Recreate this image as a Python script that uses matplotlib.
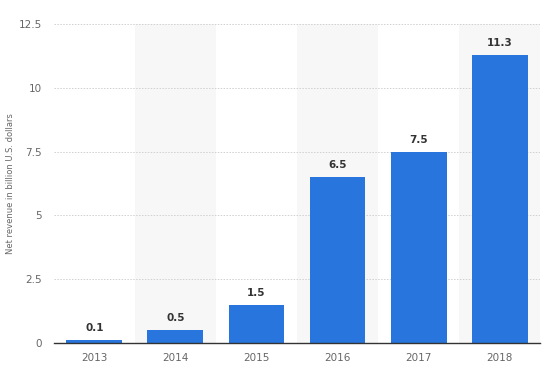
import matplotlib
matplotlib.use("Agg")
import matplotlib.pyplot as plt

years = ["2013", "2014", "2015", "2016", "2017", "2018"]
revenue = [0.1, 0.5, 1.5, 6.5, 7.5, 11.3]
labels = ["0.1", "0.5", "1.5", "6.5", "7.5", "11.3"]
yticks = [0, 2.5, 5, 7.5, 10, 12.5]
ytick_labels = ["0", "2.5", "5", "7.5", "10", "12.5"]

fig = plt.figure(figsize=(5.5, 3.91), dpi=100)
ax = fig.add_axes([0.098, 0.1228, 0.884, 0.8158])

x = list(range(len(years)))
for i in x:
    if i % 2 == 1:
        ax.axvspan(i - 0.5, i + 0.5, color="#f7f7f7", zorder=0, lw=0)

bars = ax.bar(x, revenue, width=0.69, color="#2876dd", zorder=3)
for xi, v, lab in zip(x, revenue, labels):
    ax.annotate(lab, (xi, v), xytext=(0, 5), textcoords="offset points",
                ha="center", va="bottom", fontsize=7.5, fontweight="bold", color="#333333")

ax.set_xlim(-0.5, len(years) - 0.5)
ax.set_ylim(0, 12.5)
ax.set_yticks(yticks)
ax.set_yticklabels(ytick_labels)
ax.set_xticks(x)
ax.set_xticklabels(years)
ax.yaxis.grid(True, color="#d0d0d0", linestyle=(0, (1.5, 1.5)), linewidth=0.7, zorder=1)
ax.set_axisbelow(True)
for s in ["top", "right", "left"]:
    ax.spines[s].set_visible(False)
ax.spines["bottom"].set_color("#333333")
ax.spines["bottom"].set_linewidth(1.0)
ax.spines["bottom"].set_zorder(4)
ax.tick_params(axis="both", length=0, labelsize=7.5, labelcolor="#666666")
ax.tick_params(axis="x", pad=7)
ax.tick_params(axis="y", pad=8.5)
ax.set_ylabel("Net revenue in billion U.S. dollars", fontsize=6, color="#666666", labelpad=3)

fig.savefig("out.png", dpi=100)
